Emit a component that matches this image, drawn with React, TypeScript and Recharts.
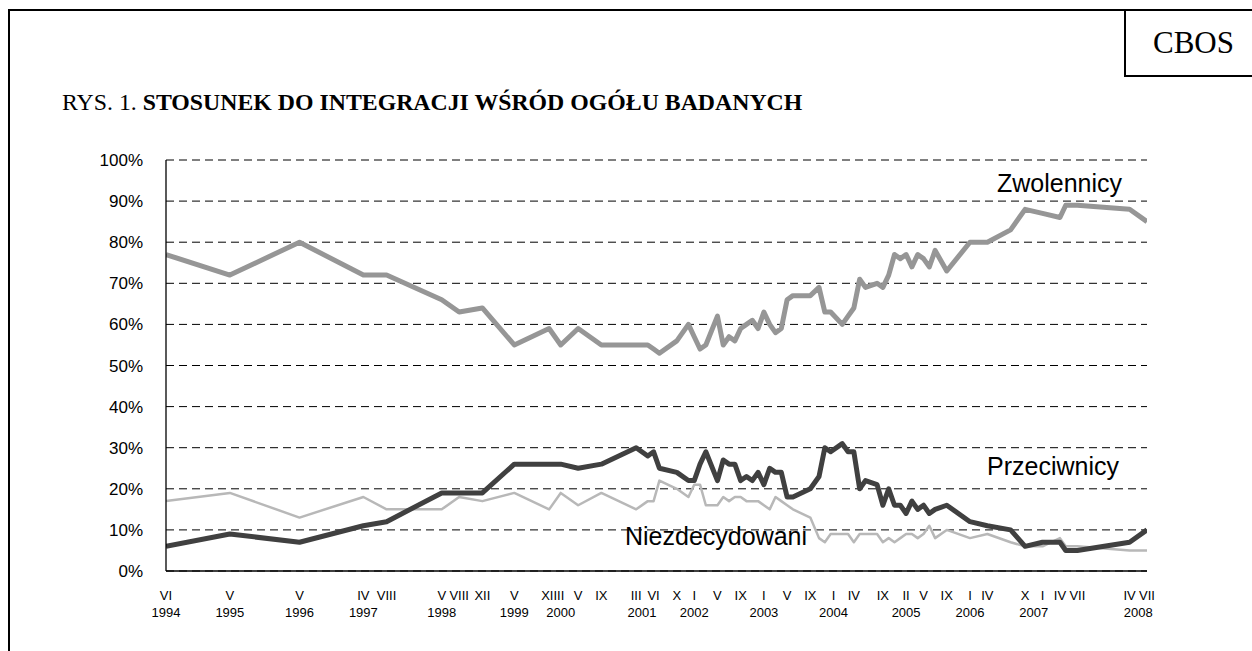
import React from 'react';
import { LineChart, Line, XAxis, YAxis, CartesianGrid } from 'recharts';

// Survey dates as months elapsed since June 1994 (VI 1994 = 0)
const surveyMonths = [
  0, 11, 23, 34, 38, 47.5, 50.5, 54.5, 60, 66, 68, 71, 75, 81, 83, 84, 85, 88, 90, 91,
  92, 93, 95, 96, 97, 98, 99, 100, 101, 102, 103, 104, 105, 106, 107, 108, 111, 112.5, 113.5, 114.5,
  116.5, 117.5, 118.5, 119.5, 120.5, 122.5, 123.5, 124.5, 125.5, 126.5, 127.5, 128.5, 129.5, 130.5, 131.5, 132.5, 134.5, 138.5, 141.5, 145.5,
  148, 151, 154, 155, 157, 166, 169,
];
const zwolennicy = [
  77, 72, 80, 72, 72, 66, 63, 64, 55, 59, 55, 59, 55, 55, 55, 54, 53, 56, 60, 57,
  54, 55, 62, 55, 57, 56, 59, 60, 61, 59, 63, 60, 58, 59, 66, 67, 67, 69, 63, 63,
  60, 62, 64, 71, 69, 70, 69, 72, 77, 76, 77, 74, 77, 76, 74, 78, 73, 80, 80, 83,
  88, 87, 86, 89, 89, 88, 85,
];
const przeciwnicy = [
  6, 9, 7, 11, 12, 19, 19, 19, 26, 26, 26, 25, 26, 30, 28, 29, 25, 24, 22, 22,
  26, 29, 22, 27, 26, 26, 22, 23, 22, 24, 21, 25, 24, 24, 18, 18, 20, 23, 30, 29,
  31, 29, 29, 20, 22, 21, 16, 20, 16, 16, 14, 17, 15, 16, 14, 15, 16, 12, 11, 10,
  6, 7, 7, 5, 5, 7, 10,
];
const niezdecydowani = [
  17, 19, 13, 18, 15, 15, 18, 17, 19, 15, 19, 16, 19, 15, 17, 17, 22, 20, 18, 21,
  21, 16, 16, 18, 17, 18, 18, 17, 17, 17, 16, 15, 18, 17, 16, 15, 13, 8, 7, 9,
  9, 9, 7, 9, 9, 9, 7, 8, 7, 8, 9, 9, 8, 9, 11, 8, 10, 8, 9, 7,
  6, 6, 8, 6, 6, 5, 5,
];

const monthTickPositions = [
  0, 11, 23, 34, 38, 47.5, 50.5, 54.5, 60, 66, 68, 71, 75, 81, 84, 88, 91, 95, 99, 103,
  107, 111, 115, 118.5, 123.5, 127.5, 130.5, 134.5, 138.5, 141.5, 148, 151, 154, 157, 166, 169,
];
const monthTickLabels = [
  'VI', 'V', 'V', 'IV', 'VIII', 'V', 'VIII', 'XII', 'V', 'XII', 'II', 'V', 'IX', 'III', 'VI', 'X', 'I', 'V', 'IX', 'I',
  'V', 'IX', 'I', 'IV', 'IX', 'II', 'V', 'IX', 'I', 'IV', 'X', 'I', 'IV', 'VII', 'IV', 'VII',
];
const yearTickPositions = [0, 11, 23, 34, 47.5, 60, 68, 82, 91, 103, 115, 127.5, 138.5, 149.5, 167.5];
const yearTickLabels = ['1994', '1995', '1996', '1997', '1998', '1999', '2000', '2001', '2002', '2003', '2004', '2005', '2006', '2007', '2008'];

const yTicks = [0, 10, 20, 30, 40, 50, 60, 70, 80, 90, 100];

const data = surveyMonths.map((m, i) => ({
  m,
  z: zwolennicy[i],
  p: przeciwnicy[i],
  n: niezdecydowani[i],
}));

const allXTicks = Array.from(new Set([...monthTickPositions, ...yearTickPositions])).sort((a, b) => a - b);

const SANS = '"Liberation Sans", Arial, sans-serif';
const SERIF = '"Liberation Serif", "Times New Roman", serif';

const XTick = (props: any) => {
  const { x, y, payload } = props;
  const v = payload.value;
  const mi = monthTickPositions.indexOf(v);
  const yi = yearTickPositions.indexOf(v);
  return (
    <g>
      {mi >= 0 && (
        <text x={x} y={y + 29} textAnchor="middle" fontSize={13} fontFamily={SANS} fill="#000">
          {monthTickLabels[mi]}
        </text>
      )}
      {yi >= 0 && (
        <text x={x} y={y + 46} textAnchor="middle" fontSize={13} fontFamily={SANS} fill="#000">
          {yearTickLabels[yi]}
        </text>
      )}
    </g>
  );
};

const labelStyle: React.CSSProperties = {
  position: 'absolute',
  fontFamily: SANS,
  fontSize: 25,
  lineHeight: '25px',
  color: '#000',
  whiteSpace: 'nowrap',
};

export default function App() {
  return (
    <div
      style={{
        position: 'fixed',
        left: 0,
        top: 0,
        width: 1252,
        height: 651,
        overflow: 'hidden',
        background: '#fff',
      }}
    >
      {/* outer frame */}
      <div
        style={{
          position: 'absolute',
          left: 8,
          top: 9,
          width: 1300,
          height: 700,
          border: '2px solid #000',
          boxSizing: 'border-box',
        }}
      />
      {/* CBOS box */}
      <div
        style={{
          position: 'absolute',
          left: 1124,
          top: 9,
          width: 200,
          height: 68,
          border: '2px solid #000',
          boxSizing: 'border-box',
        }}
      />
      <div
        style={{
          position: 'absolute',
          left: 1153,
          top: 27,
          fontFamily: SERIF,
          fontSize: 31,
          lineHeight: '31px',
          whiteSpace: 'nowrap',
        }}
      >
        CBOS
      </div>
      {/* title */}
      <div
        style={{
          position: 'absolute',
          left: 62,
          top: 91,
          fontFamily: SERIF,
          fontSize: 23.8,
          lineHeight: '23.8px',
          whiteSpace: 'nowrap',
        }}
      >
        RYS. 1. <b>STOSUNEK DO INTEGRACJI WŚRÓD OGÓŁU BADANYCH</b>
      </div>

      <div style={{ position: 'absolute', left: 0, top: 0 }}>
        <LineChart width={1252} height={651} data={data} margin={{ top: 160, right: 105, bottom: 30, left: 0 }}>
          <CartesianGrid vertical={false} stroke="#000" strokeDasharray="8 5" horizontalValues={yTicks} />
          <XAxis
            dataKey="m"
            type="number"
            domain={[0, 169]}
            ticks={allXTicks}
            interval={0}
            tick={<XTick />}
            tickLine={false}
            tickSize={0}
            tickMargin={0}
            height={50}
            axisLine={{ stroke: '#000', strokeWidth: 1.3 }}
            allowDataOverflow
          />
          <XAxis
            xAxisId="top"
            orientation="top"
            type="number"
            domain={[0, 169]}
            tick={false}
            tickLine={false}
            height={0}
            axisLine={{ stroke: '#000', strokeWidth: 1.3 }}
            allowDataOverflow
          />
          <YAxis
            type="number"
            domain={[0, 100]}
            ticks={yTicks}
            interval={0}
            tickFormatter={(v: number) => `${v}%`}
            tick={{ fontSize: 17, fontFamily: SANS, fill: '#000' }}
            tickLine={false}
            tickSize={0}
            tickMargin={23}
            width={166}
            axisLine={{ stroke: '#000', strokeWidth: 1.3 }}
            allowDataOverflow
          />
          <YAxis
            yAxisId="right"
            orientation="right"
            type="number"
            domain={[0, 100]}
            tick={false}
            tickLine={false}
            width={0}
            axisLine={{ stroke: '#000', strokeWidth: 1.3 }}
            allowDataOverflow
          />
          <Line
            dataKey="n"
            type="linear"
            stroke="#b8b8b8"
            strokeWidth={2.5}
            dot={false}
            strokeLinejoin="round"
            isAnimationActive={false}
          />
          <Line
            dataKey="z"
            type="linear"
            stroke="#969696"
            strokeWidth={5}
            dot={false}
            strokeLinejoin="round"
            isAnimationActive={false}
          />
          <Line
            dataKey="p"
            type="linear"
            stroke="#404040"
            strokeWidth={5}
            dot={false}
            strokeLinejoin="round"
            isAnimationActive={false}
          />
        </LineChart>
      </div>

      <div style={{ ...labelStyle, left: 997, top: 171 }}>Zwolennicy</div>
      <div style={{ ...labelStyle, left: 987, top: 454 }}>Przeciwnicy</div>
      <div style={{ ...labelStyle, left: 625, top: 524 }}>Niezdecydowani</div>
    </div>
  );
}
